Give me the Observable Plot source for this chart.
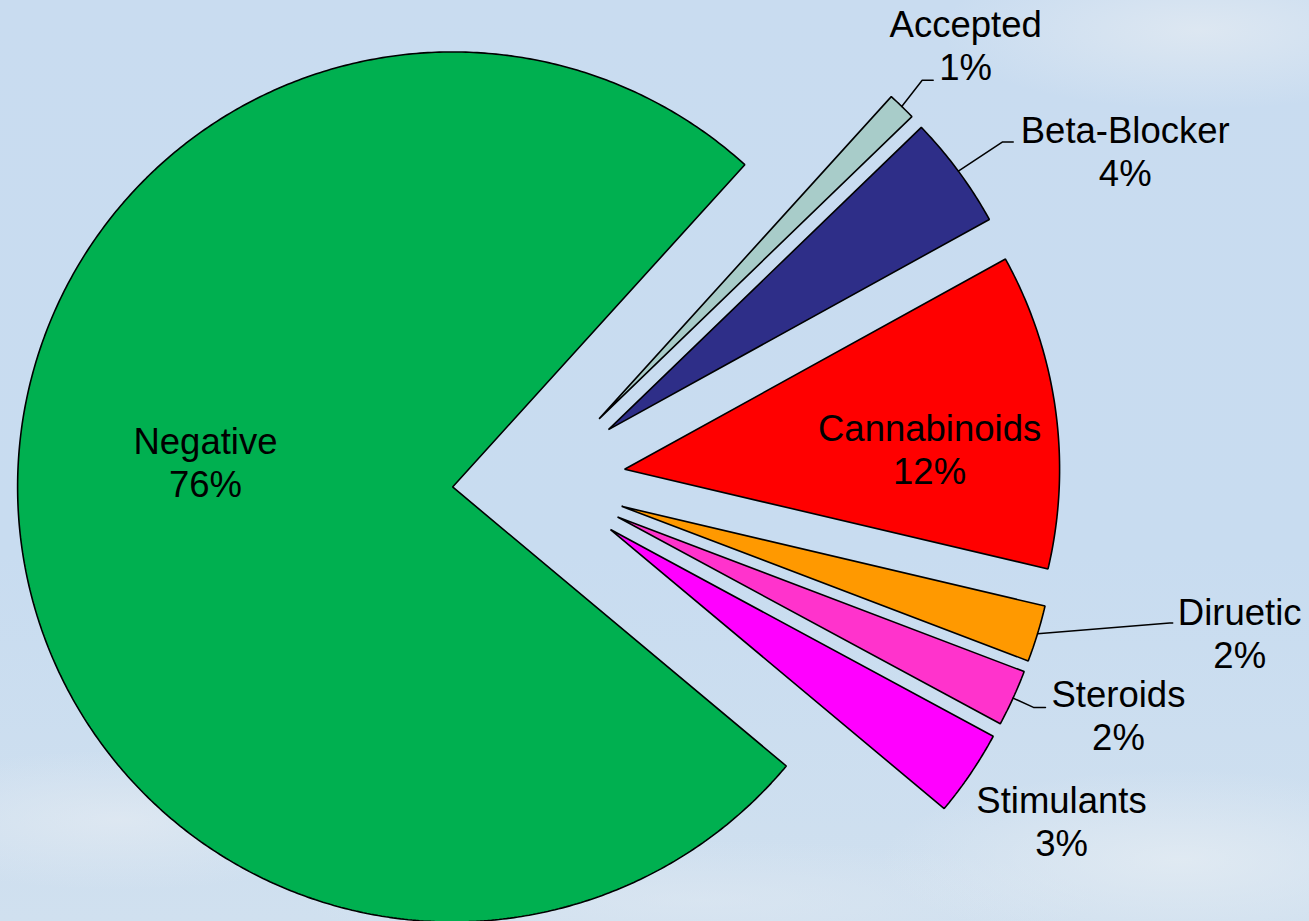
<!DOCTYPE html>
<html>
<head>
<meta charset="utf-8">
<script src="https://cdn.jsdelivr.net/npm/d3@7"></script>
<script src="https://cdn.jsdelivr.net/npm/@observablehq/plot@0.6"></script>
<style>
  html, body { margin: 0; padding: 0; overflow: hidden; }
  body {
    width: 1309px; height: 921px;
    background:
      radial-gradient(ellipse 260px 70px at 120px 820px, rgba(226,234,242,0.75), rgba(226,234,242,0) 100%),
      radial-gradient(ellipse 300px 90px at 1180px 860px, rgba(228,236,243,0.8), rgba(228,236,243,0) 100%),
      radial-gradient(ellipse 260px 80px at 1200px 30px, rgba(226,234,242,0.8), rgba(226,234,242,0) 100%),
      radial-gradient(ellipse 400px 60px at 700px 900px, rgba(222,232,242,0.6), rgba(222,232,242,0) 100%),
      linear-gradient(180deg, #c9dcf0 0%, #c8dcf0 60%, #d0e0ef 100%);
  }
  #chart svg { display: block; }
</style>
</head>
<body>
<div id="chart"></div>
<script>
// ---- data ----
const categories = ["Accepted", "Beta-Blocker", "Cannabinoids", "Diruetic", "Steroids", "Stimulants", "Negative"];
const shares = [1.05, 4.2, 11.7, 2.1, 2.1, 3.2, 75.6];
const colors = ["#a8ccc9", "#2e2e88", "#ff0000", "#ff9900", "#ff33cc", "#ff00ff", "#00b050"];

// ---- layout ----
const W = 1309, H = 921;
const layout = {
  cx: 538.4, cy: 480.5, r: 435, explode: 86.5, startDeg: 42.2,
  font: 36.5
};
// label placement (polar from pie centre) and leader offsets relative to label
const labelPlace = {
  "Accepted":     {deg: 44.4,  dist: 610,   leader: [[-43.5, 35], [-32.5, 35]]},
  "Beta-Blocker": {deg: 60.6,  dist: 673,   leader: [[-123, -8.5], [-112, -8.5]]},
  "Cannabinoids": {deg: 85.3,  dist: 392,   leader: null},
  "Diruetic":     {deg: 102.2, dist: 717,   leader: [[-70, -9.5], [-67, -9.5]]},
  "Steroids":     {deg: 111.98,dist: 625,   leader: [[-85, -7.5], [-73, -7.5]]},
  "Stimulants":   {deg: 123.05,dist: 623.5, leader: null},
  "Negative":     {deg: 273.3, dist: 334,   leader: null}
};

const rad = d => d * Math.PI / 180;
const total = d3.sum(shares);
const rows = categories.map((name, i) => ({name, value: shares[i], color: colors[i]}));
const arcs = d3.pie().sort(null).value(d => d.value)
  .startAngle(rad(layout.startDeg)).endAngle(rad(layout.startDeg) + 2 * Math.PI)(rows);

const pt = (ox, oy, a, rho) => [ox + rho * Math.sin(a), oy - rho * Math.cos(a)];

const slicePts = [];
const leaderPts = [];
const labels = [];
for (const a of arcs) {
  const mid = (a.startAngle + a.endAngle) / 2;
  const [ax, ay] = pt(layout.cx, layout.cy, mid, layout.explode);
  const name = a.data.name;
  slicePts.push({name, x: ax, y: ay});
  const n = Math.max(2, Math.ceil((a.endAngle - a.startAngle) / rad(0.5)));
  for (let k = 0; k <= n; k++) {
    const t = a.startAngle + (a.endAngle - a.startAngle) * k / n;
    const [x, y] = pt(ax, ay, t, layout.r);
    slicePts.push({name, x, y});
  }
  const lp = labelPlace[name];
  const [lx, ly] = pt(layout.cx, layout.cy, rad(lp.deg), lp.dist);
  const pct = Math.round(a.data.value / total * 100) + "%";
  labels.push({name, x: lx, y: ly, text: name + "\n" + pct});
  if (lp.leader) {
    const [sx, sy] = pt(ax, ay, mid, layout.r);
    leaderPts.push({name, x: sx, y: sy});
    for (const [dx, dy] of lp.leader) leaderPts.push({name, x: lx + dx, y: ly + dy});
  }
}

const chart = Plot.plot({
  width: W, height: H,
  margin: 0,
  style: {background: "transparent", overflow: "visible"},
  x: {domain: [0, W], range: [0, W], axis: null},
  y: {domain: [0, H], range: [0, H], axis: null},
  color: {domain: categories, range: colors},
  marks: [
    Plot.line(slicePts, {x: "x", y: "y", z: "name", fill: "name", stroke: "#000", strokeWidth: 1.6, curve: "linear-closed", strokeLinejoin: "miter"}),
    Plot.line(leaderPts, {x: "x", y: "y", z: "name", stroke: "#000", strokeWidth: 1.5}),
    Plot.text(labels, {x: "x", y: "y", text: "text", fill: "#000", fontSize: layout.font,
      fontFamily: "'Liberation Sans', Arial, sans-serif", lineHeight: 1.18, textAnchor: "middle"})
  ]
});
document.getElementById("chart").appendChild(chart);
</script>
</body>
</html>
